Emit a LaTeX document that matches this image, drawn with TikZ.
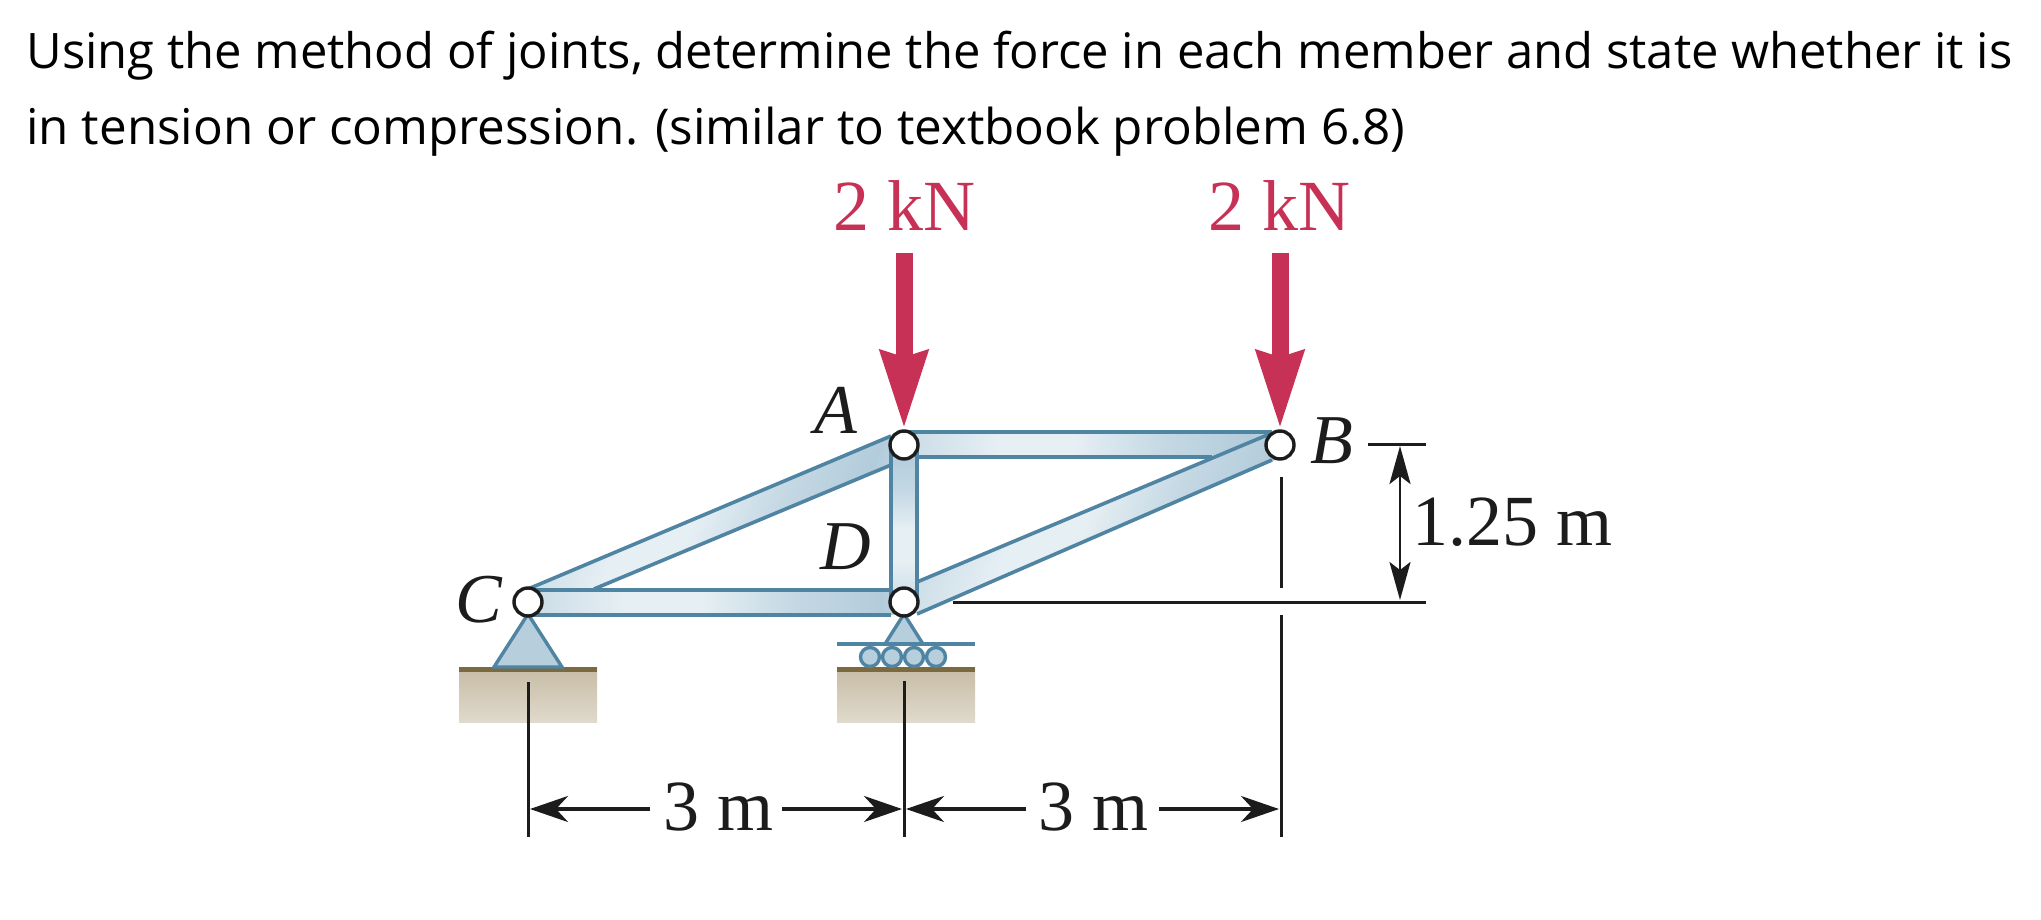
\documentclass[tikz,border=0pt]{standalone}
\usepackage{fontspec}
\usepackage{graphicx}
\usetikzlibrary{arrows.meta,calc}
\setmainfont{Liberation Serif}
\newfontfamily\bodyfont{Open Sans}
\definecolor{edgeblue}{HTML}{4F84A2}
\definecolor{lb1}{HTML}{B7CFDD}
\definecolor{lb2}{HTML}{E6EFF4}
\definecolor{lb3}{HTML}{B3CCDB}
\definecolor{loadred}{HTML}{C73155}
\definecolor{soiltop}{HTML}{C6BBA5}
\definecolor{soilbot}{HTML}{E0DACC}
\definecolor{soilline}{HTML}{7B6A40}
\definecolor{inkblack}{HTML}{1C1C1C}
\pgfdeclarehorizontalshading{membershade}{100bp}{
  color(0bp)=(lb2!55!lb1); color(25bp)=(lb1!60!lb2); color(38bp)=(lb2); color(48bp)=(lb2);
  color(60bp)=(lb1!70!lb2); color(72bp)=(lb3); color(82bp)=(lb2!60!lb1); color(100bp)=(lb1)}
\tikzset{
  member/.style={shading=membershade},
  memberedge/.style={draw=edgeblue,line width=1.8pt},
  joint/.style={circle,draw=inkblack,fill=white,line width=1.7pt,minimum size=14pt,inner sep=0pt},
  supportfill/.style={draw=edgeblue,line width=1.7pt,line join=miter,fill=lb1},
  roller/.style={circle,draw=edgeblue,fill=lb1,line width=1.7pt,minimum size=9.5pt,inner sep=0pt},
  soil/.style={top color=soiltop,bottom color=soilbot},
  loadarrow/.style={line width=8.5pt,draw=loadred,-{Stealth[length=38.5pt,width=22.5pt,inset=2.5pt,fill=loadred]}},
  dimline/.style={draw=inkblack,line width=1.5pt},
  dimarrow/.style={draw=inkblack,line width=2pt,-{Stealth[length=19pt,width=13pt,inset=6pt]}},
  dimarrowv/.style={draw=inkblack,line width=1.4pt,-{Stealth[length=19pt,width=10.5pt,inset=4pt]}},
  measure/.style={font=\fontsize{36}{36}\selectfont,text=inkblack,anchor=base,inner sep=0pt},
  loadtext/.style={font=\fontsize{36}{36}\selectfont,text=loadred,anchor=base,inner sep=0pt},
  jointname/.style={font=\fontsize{35}{35}\selectfont\itshape,text=inkblack,anchor=base,inner sep=0pt},
  bodytext/.style={font=\bodyfont\fontsize{24}{24}\selectfont,text=black,anchor=base west,inner sep=0pt},
}
\begin{document}
\begin{tikzpicture}[x=0.5pt,y=-0.5pt]
\useasboundingbox (0,0) rectangle (2041,920);
\fill[white] (0,0) rectangle (2041,920);

\coordinate (Apt) at (904,445);
\coordinate (Bpt) at (1280,445);
\coordinate (Cpt) at (528,602);
\coordinate (Dpt) at (904,602);

% text
\node[bodytext] (line1) at (26,69) {\resizebox{993pt}{!}{Using the method of joints, determine the force in each member and state whether it is}};
\node[bodytext] (line2) at (26,144) {\resizebox{689.5pt}{!}{in tension or compression. (similar to textbook problem 6.8)}};

% ground
\shade[soil] (459,667) rectangle (597,722);
\shade[soil] (837,667) rectangle (975,722);
\fill[soilline] (459,667) rectangle (597,672);
\fill[soilline] (837,667) rectangle (975,672);

% supports
\draw[supportfill] ($(Cpt)+(0,12)$) -- (494,667) -- (562,667) -- cycle;
\draw[supportfill] ($(Dpt)+(0,12)$) -- (885,644) -- (923,644) -- cycle;
\node[roller] (r1) at (870,657) {};
\node[roller] (r2) at (892,657) {};
\node[roller] (r3) at (914,657) {};
\node[roller] (r4) at (936,657) {};
\draw[memberedge] (837,644) -- (975,644);

% members
\shade[member] (904,432) rectangle (1272,457);
\draw[memberedge] (904,432) -- (1272,432);
\draw[memberedge] (917,457) -- (1212,457);
\shade[member,shading angle=-22] (917,582) -- (1272,433) -- (1280,433) -- (1280,458) -- (917,614) -- cycle;
\draw[memberedge] (917,582) -- (1272,433);
\draw[memberedge] (917,614) -- (1272,460);
\shade[member,shading angle=-22] (528,589) -- (594,589) -- (891,465) -- (891,436) -- cycle;
\draw[memberedge] (528,589) -- (891,436);
\draw[memberedge] (594,589) -- (891,465);
\shade[member] (528,590) rectangle (904,614);
\draw[memberedge] (528,590) -- (891,590);
\draw[memberedge] (528,615) -- (891,615);
\shade[member,shading angle=90] (891,445) rectangle (917,602);
\draw[memberedge] (891,445) -- (891,602);
\draw[memberedge] (917,445) -- (917,602);

% dimension lines
\coordinate (c0) at (528,682);
\coordinate (c1) at (528,837);
\coordinate (d0) at (904,681);
\coordinate (d1) at (904,837);
\coordinate (b0) at (1281,477);
\coordinate (b1) at (1281,588);
\coordinate (b2) at (1281,615);
\coordinate (b3) at (1281,837);
\coordinate (t0) at (1368,444);
\coordinate (t1) at (1426,444);
\coordinate (g0) at (953,602);
\coordinate (g1) at (1426,602);
\draw[dimline] (c0) -- (c1);
\draw[dimline] (d0) -- (d1);
\draw[dimline] (b0) -- (b1);
\draw[dimline] (b2) -- (b3);
\draw[dimline] (t0) -- (t1);
\draw[dimline] (g0) -- (g1);

\coordinate (a1) at (650,809);
\coordinate (a2) at (782,809);
\coordinate (a3) at (1026,809);
\coordinate (a4) at (1159,809);
\coordinate (e1) at (530,809);
\coordinate (e2) at (902,809);
\coordinate (e3) at (906,809);
\coordinate (e4) at (1279,809);
\draw[dimarrow] (a1) -- (e1);
\draw[dimarrow] (a2) -- (e2);
\draw[dimarrow] (a3) -- (e3);
\draw[dimarrow] (a4) -- (e4);
\coordinate (v) at (1400,523);
\coordinate (v0) at (1400,446);
\coordinate (v1) at (1400,600);
\draw[dimarrowv] (v) -- (v0);
\draw[dimarrowv] (v) -- (v1);

% joints
\node[joint] (A) at (Apt) {};
\node[joint] (B) at (Bpt) {};
\node[joint] (C) at (Cpt) {};
\node[joint] (D) at (Dpt) {};

% loads
\coordinate (la) at (904,253);
\coordinate (lb) at (1280,253);
\draw[loadarrow] (la) -- (A.north);
\draw[loadarrow] (lb) -- (B.north);
\node[loadtext] (t1) at (904,230) {2 kN};
\node[loadtext] (t2) at (1279,230) {2 kN};

% labels
\node[jointname] (lA) at (836,433) {A};
\node[jointname] (lB) at (1332,463) {B};
\node[jointname] (lC) at (479,622) {C};
\node[jointname] (lD) at (846,569) {D};
\node[measure] (m1) at (718,830) {3 m};
\node[measure] (m2) at (1093,830) {3 m};
\node[measure] (m3) at (1512,545) {1.25 m};
\end{tikzpicture}
\end{document}
